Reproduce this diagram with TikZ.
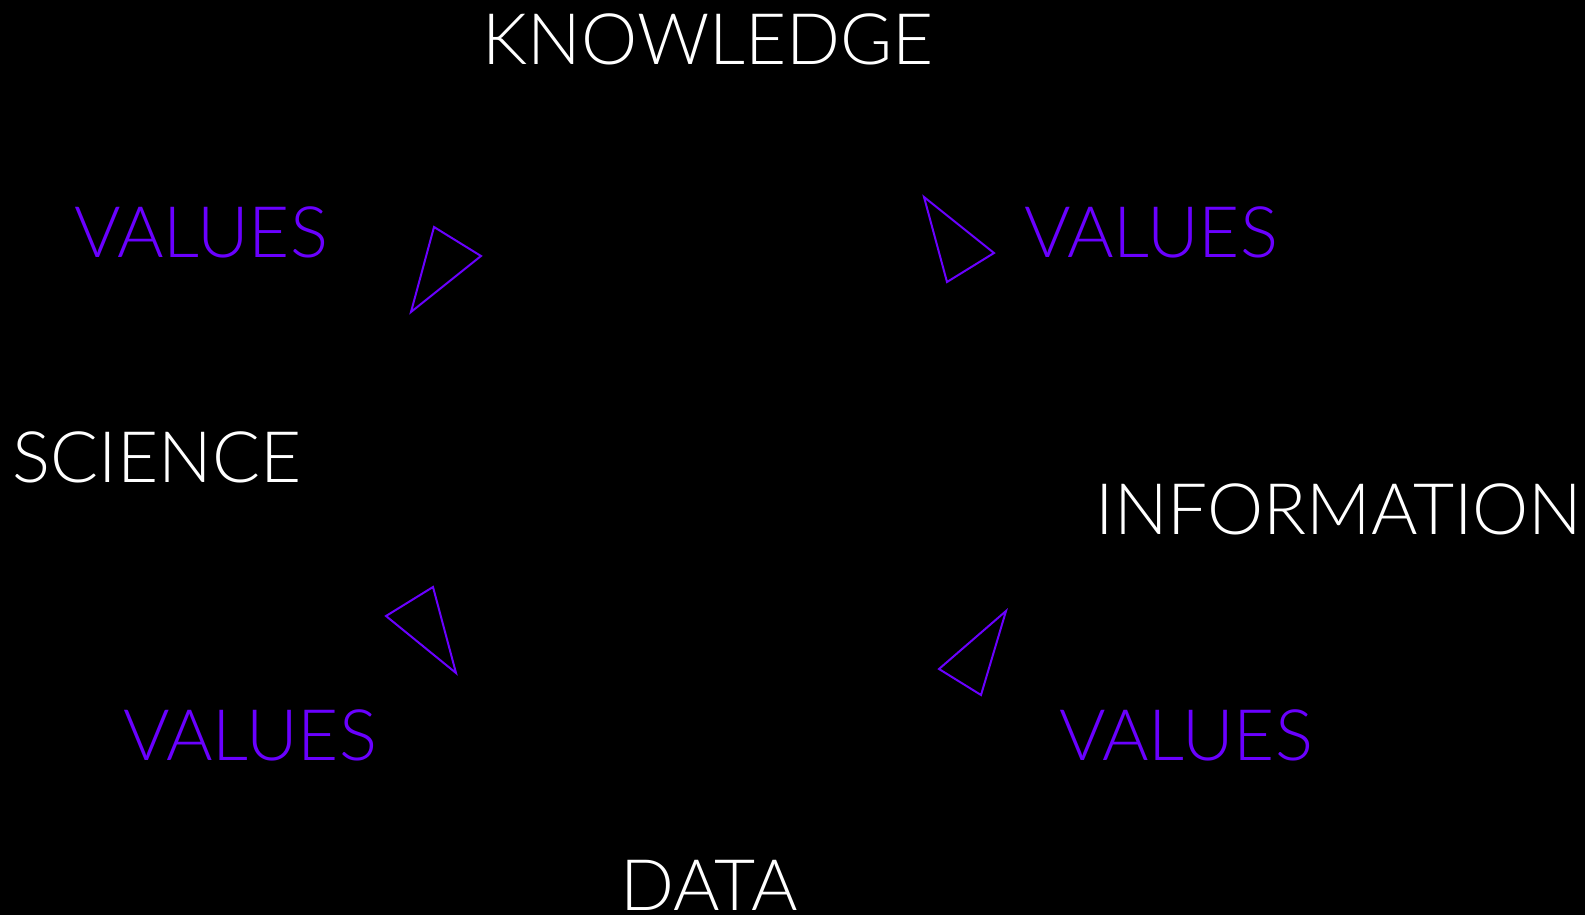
\documentclass[tikz,border=0pt]{standalone}
\usepackage{fontspec}
\setmainfont{Lato}[UprightFont=* Light]
\definecolor{valpurple}{RGB}{106,0,255}
\begin{document}
\begin{tikzpicture}[x=1pt,y=-1pt,
    word/.style={text=white,inner sep=0pt,font=\fontsize{71}{71}\selectfont},
    val/.style={word,text=valpurple},
    tri/.style={draw=valpurple,line width=2pt,line join=miter}]
    \fill[black] (0,0) rectangle (1585,915);
    % the four words
    \node[word] (know) at (708,39) {KNOWLEDGE};
    \node[word] (sci) at (157,457) {SCIENCE};
    \node[word] (info) at (1339,509) {INFORMATION};
    \node[word] (data) at (709,885) {DATA};
    % values
    \node[val] (valul) at (201,232) {VALUES};
    \node[val] (valur) at (1151,232) {VALUES};
    \node[val] (valll) at (250,735) {VALUES};
    \node[val] (vallr) at (1186,735) {VALUES};
    % triangles
    \draw[tri] (434,227) -- (481,256) -- (411,312) -- cycle;
    \draw[tri] (924,197) -- (994,253) -- (947,282) -- cycle;
    \draw[tri] (433,587) -- (386,616) -- (456,673) -- cycle;
    \draw[tri] (1006,611) -- (939,669) -- (981,695) -- cycle;
\end{tikzpicture}
\end{document}
